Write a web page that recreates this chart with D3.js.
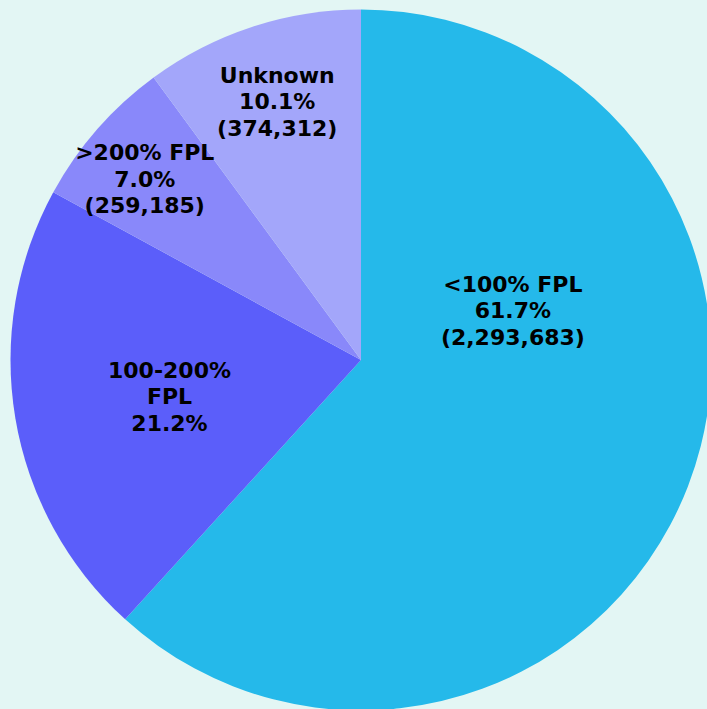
<!DOCTYPE html>
<html>
<head>
<meta charset="utf-8">
<script src="https://cdn.jsdelivr.net/npm/d3@7"></script>
<style>
  html, body { margin: 0; padding: 0; background: #E3F6F4; overflow: hidden; }
  svg { display: block; }
</style>
</head>
<body>
<svg id="chart" width="707" height="709"></svg>
<script>
// ---- data ----
const categories = ["<100% FPL", "100-200% FPL", ">200% FPL", "Unknown"];
const counts = [2293683, 787515, 259185, 374312]; // 100-200% count estimated (not shown)
const showCount = [true, false, true, true];
const nameLines = [["<100% FPL"], ["100-200%", "FPL"], [">200% FPL"], ["Unknown"]];
const colors = ["#25B9EA", "#5B5EFA", "#8988FA", "#A3A6FA"];

// ---- layout ----
const W = 707, H = 709;
const cx = 361, cy = 360, R = 350.5;
// label placement: angle offset (deg) from slice mid-angle, radius fraction
const labelLayout = [
  { dAngle: -39.3, rFrac: 0.456 },
  { dAngle: -1.1, rFrac: 0.556 },
  { dAngle: -1.2, rFrac: 0.805 },
  { dAngle: 0.2, rFrac: 0.776 }
];
const fontSize = 22, lineH = 26.5, capHalf = 8;

const svg = d3.select("#chart");
svg.append("rect").attr("width", W).attr("height", H).attr("fill", "#E3F6F4");

const data = categories.map((c, i) => ({ name: c, value: counts[i], i }));
const total = d3.sum(counts);
const pct = d3.format(".1%");
const num = d3.format(",");

const pie = d3.pie().value(d => d.value).sort(null).startAngle(0).endAngle(2 * Math.PI);
const arcs = pie(data);
const arc = d3.arc().innerRadius(0).outerRadius(R);
const color = d3.scaleOrdinal().domain(categories).range(colors);

const g = svg.append("g").attr("transform", `translate(${cx},${cy})`);
g.selectAll("path.slice").data(arcs).join("path")
  .attr("class", "slice")
  .attr("d", arc)
  .attr("fill", d => color(d.data.name));

const labels = g.selectAll("text.lbl").data(arcs).join("text")
  .attr("class", "lbl")
  .attr("text-anchor", "middle")
  .attr("font-family", "'DejaVu Sans', Verdana, sans-serif")
  .attr("font-weight", "bold")
  .attr("font-size", fontSize)
  .attr("fill", "#000")
  .each(function (d) {
    const i = d.data.i;
    const lay = labelLayout[i];
    const mid = (d.startAngle + d.endAngle) / 2 + lay.dAngle * Math.PI / 180;
    const r = lay.rFrac * R;
    const x = r * Math.sin(mid), y = -r * Math.cos(mid);
    const lines = nameLines[i].slice();
    lines.push(pct(d.data.value / total));
    if (showCount[i]) lines.push("(" + num(d.data.value) + ")");
    const y0 = y - (lines.length - 1) / 2 * lineH + capHalf;
    const t = d3.select(this);
    lines.forEach((ln, k) => {
      t.append("tspan").attr("x", x).attr("y", y0 + k * lineH).text(ln);
    });
  });
</script>
</body>
</html>
